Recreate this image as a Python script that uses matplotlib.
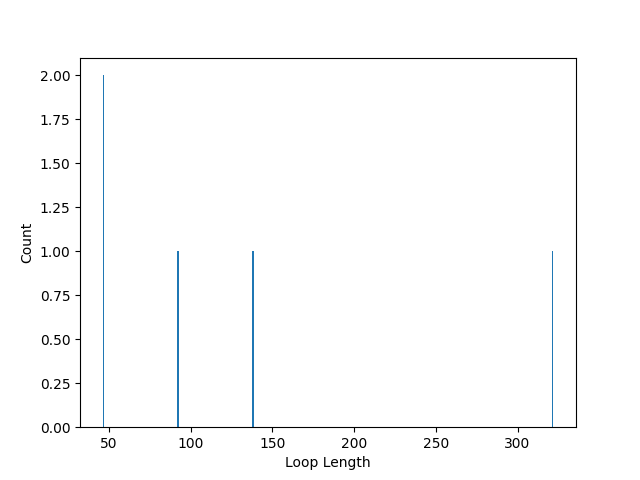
import matplotlib
matplotlib.use("Agg")
import matplotlib.pyplot as plt

loop_lengths = [46, 46, 92, 138, 322]
n_bins = max(loop_lengths) - min(loop_lengths) + 1

fig, ax = plt.subplots(figsize=(6.4, 4.8), dpi=100)
ax.hist(loop_lengths, bins=n_bins)
ax.set_xlabel("Loop Length")
ax.set_ylabel("Count")
fig.savefig("out.png")
